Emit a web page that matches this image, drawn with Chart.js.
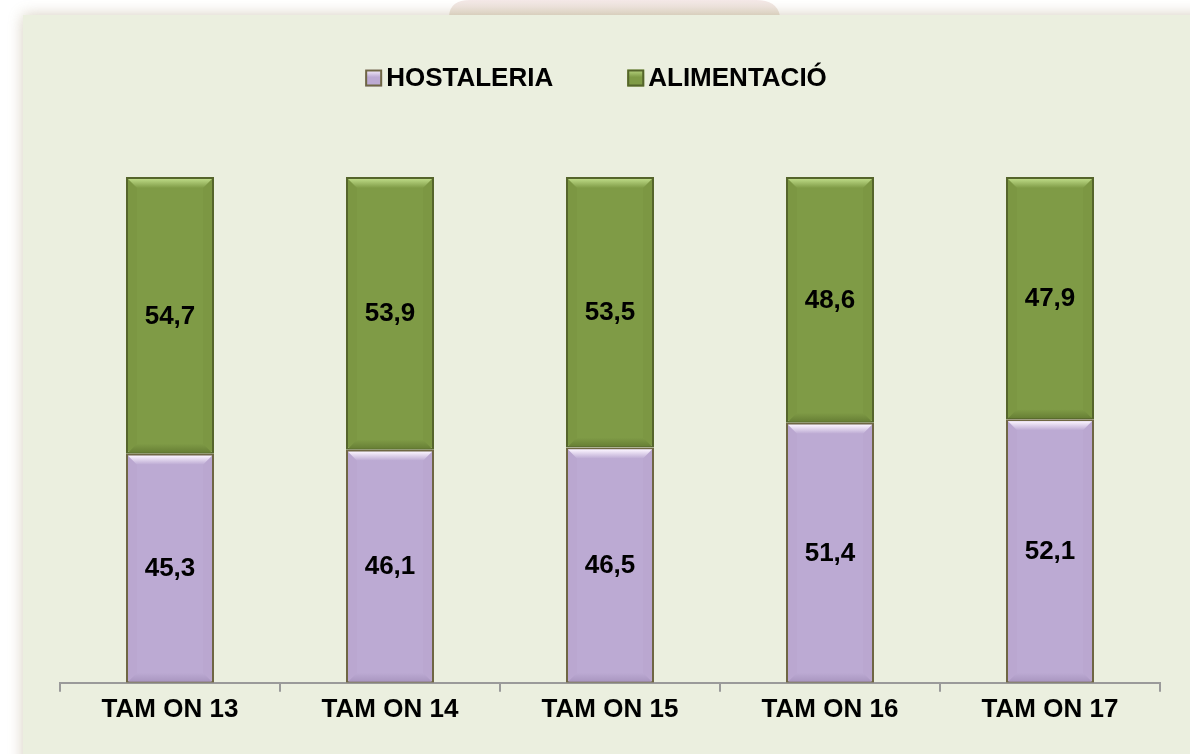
<!DOCTYPE html>
<html>
<head>
<meta charset="utf-8">
<script src="https://cdn.jsdelivr.net/npm/chart.js@4.4.0/dist/chart.umd.min.js"></script>
<style>
html, body { margin: 0; padding: 0; background: #fff; }
</style>
</head>
<body>
<canvas id="chart" width="1190" height="754"></canvas>
<script>
var categories = ['TAM ON 13', 'TAM ON 14', 'TAM ON 15', 'TAM ON 16', 'TAM ON 17'];
var hostaleria = [45.3, 46.1, 46.5, 51.4, 52.1];
var alimentacio = [54.7, 53.9, 53.5, 48.6, 47.9];
var seriesNames = ['HOSTALERIA', 'ALIMENTACIÓ'];

var FONT = "'Liberation Sans', Arial, sans-serif";

// colours per series: fill, light edge, dark edge, border
var looks = [
    { fill: '#BCAAD3', light: '#FBF4FF', dark: '#A996C0', border: '#6F6744' },
    { fill: '#7F9B46', light: '#BCD985', dark: '#677F35', border: '#55652B' }
];

function fmt(v) {
    return v.toFixed(1).replace('.', ',');
}

var backgroundPlugin = {
    id: 'panel',
    beforeDraw: function(chart) {
        var ctx = chart.ctx;
        ctx.save();
        ctx.fillStyle = '#ffffff';
        ctx.fillRect(0, 0, chart.width, chart.height);
        // faint pink tab at the top
        var g = ctx.createLinearGradient(0, 0, 0, 16);
        g.addColorStop(0, 'rgba(244,232,232,1)');
        g.addColorStop(1, 'rgba(232,226,212,1)');
        ctx.fillStyle = g;
        ctx.beginPath();
        ctx.moveTo(449, 16);
        ctx.quadraticCurveTo(450, 0, 470, 0);
        ctx.lineTo(756, 0);
        ctx.quadraticCurveTo(777, 0, 780, 16);
        ctx.closePath();
        ctx.fill();
        // panel with soft shadow
        ctx.shadowColor = 'rgba(150,130,90,0.4)';
        ctx.shadowBlur = 14;
        ctx.fillStyle = '#EBEFDF';
        ctx.fillRect(23, 15, chart.width + 40, chart.height + 40);
        ctx.restore();
    }
};

var bevelPlugin = {
    id: 'bevel',
    afterDatasetsDraw: function(chart) {
        var ctx = chart.ctx;
        ctx.save();
        chart.data.datasets.forEach(function(ds, di) {
            var look = looks[di];
            chart.getDatasetMeta(di).data.forEach(function(bar) {
                var p = bar.getProps(['x', 'y', 'base', 'width'], true);
                var L = p.x - p.width / 2 + 2, R = p.x + p.width / 2 - 2;
                var T = Math.min(p.y, p.base) + 2, B = Math.max(p.y, p.base) - 1;
                var d = 9;
                var gt = ctx.createLinearGradient(0, T, 0, T + d);
                gt.addColorStop(0, look.light);
                gt.addColorStop(1, look.fill);
                ctx.fillStyle = gt;
                ctx.beginPath();
                ctx.moveTo(L, T); ctx.lineTo(R, T); ctx.lineTo(R - d, T + d); ctx.lineTo(L + d, T + d);
                ctx.closePath(); ctx.fill();
                var gb = ctx.createLinearGradient(0, B - d, 0, B);
                gb.addColorStop(0, look.fill);
                gb.addColorStop(1, look.dark);
                ctx.fillStyle = gb;
                ctx.beginPath();
                ctx.moveTo(L, B); ctx.lineTo(R, B); ctx.lineTo(R - d, B - d); ctx.lineTo(L + d, B - d);
                ctx.closePath(); ctx.fill();
                ctx.fillStyle = look.dark;
                ctx.globalAlpha = 0.12;
                ctx.beginPath();
                ctx.moveTo(R, T); ctx.lineTo(R, B); ctx.lineTo(R - d, B - d); ctx.lineTo(R - d, T + d);
                ctx.closePath(); ctx.fill();
                ctx.beginPath();
                ctx.moveTo(L, T); ctx.lineTo(L, B); ctx.lineTo(L + d, B - d); ctx.lineTo(L + d, T + d);
                ctx.closePath(); ctx.fill();
                ctx.globalAlpha = 1;
            });
        });
        ctx.restore();
    }
};

var labelPlugin = {
    id: 'valueLabels',
    afterDatasetsDraw: function(chart) {
        var ctx = chart.ctx;
        ctx.save();
        ctx.font = 'bold 26px ' + FONT;
        ctx.fillStyle = '#000';
        ctx.textAlign = 'center';
        ctx.textBaseline = 'middle';
        chart.data.datasets.forEach(function(ds, di) {
            chart.getDatasetMeta(di).data.forEach(function(bar, i) {
                var p = bar.getProps(['x', 'y', 'base'], true);
                ctx.fillText(fmt(ds.data[i]), p.x, (p.y + p.base) / 2 + 1);
            });
        });
        ctx.restore();
    }
};

var legendPlugin = {
    id: 'topLegend',
    afterDraw: function(chart) {
        var ctx = chart.ctx;
        ctx.save();
        ctx.font = 'bold 26px ' + FONT;
        var box = 17, gap = 4, between = 74;
        var widths = seriesNames.map(function(n) { return box + gap + ctx.measureText(n).width; });
        var total = widths[0] + between + widths[1];
        var x = 596 - total / 2;
        var cy = 78;
        seriesNames.forEach(function(name, i) {
            var look = looks[i];
            var g = ctx.createLinearGradient(0, cy - box / 2, 0, cy + box / 2);
            g.addColorStop(0, look.light);
            g.addColorStop(0.45, look.fill);
            g.addColorStop(1, look.fill);
            ctx.fillStyle = g;
            ctx.fillRect(x, cy - box / 2, box, box);
            ctx.strokeStyle = look.border;
            ctx.lineWidth = 2;
            ctx.strokeRect(x + 1, cy - box / 2 + 1, box - 2, box - 2);
            ctx.fillStyle = '#000';
            ctx.textAlign = 'left';
            ctx.textBaseline = 'middle';
            ctx.fillText(name, x + box + gap, cy + 1);
            x += widths[i] + between;
        });
        ctx.restore();
    }
};

var ctx = document.getElementById('chart').getContext('2d');
new Chart(ctx, {
    type: 'bar',
    data: {
        labels: categories,
        datasets: [{
            label: seriesNames[0],
            data: hostaleria,
            backgroundColor: looks[0].fill,
            borderColor: looks[0].border,
            borderWidth: 2,
            borderSkipped: false,
            categoryPercentage: 0.8,
            barPercentage: 0.5
        }, {
            label: seriesNames[1],
            data: alimentacio,
            backgroundColor: looks[1].fill,
            borderColor: looks[1].border,
            borderWidth: 2,
            borderSkipped: false,
            categoryPercentage: 0.8,
            barPercentage: 0.5
        }]
    },
    options: {
        responsive: false,
        animation: false,
        layout: {
            padding: { left: 60, right: 30, top: 177, bottom: 27 }
        },
        plugins: {
            legend: { display: false },
            tooltip: { enabled: false }
        },
        scales: {
            x: {
                stacked: true,
                grid: {
                    offset: true,
                    drawOnChartArea: false,
                    drawTicks: true,
                    tickLength: 9,
                    color: '#9a9a9a',
                    lineWidth: 2
                },
                border: { display: true, color: '#9a9a9a', width: 2 },
                ticks: {
                    color: '#000',
                    padding: 2,
                    font: { family: FONT, size: 26, weight: 'bold' }
                }
            },
            y: {
                stacked: true,
                display: false,
                min: 0,
                max: 100
            }
        }
    },
    plugins: [backgroundPlugin, bevelPlugin, labelPlugin, legendPlugin]
});
</script>
</body>
</html>
